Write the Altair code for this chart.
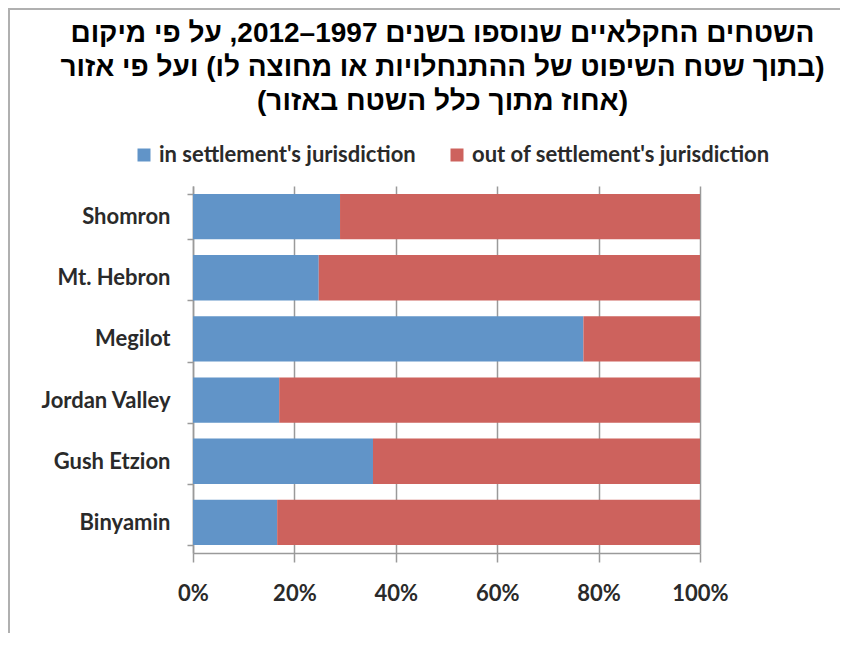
import altair as alt
import pandas as pd

# ---- data ----
regions = ["Shomron", "Mt. Hebron", "Megilot", "Jordan Valley", "Gush Etzion", "Binyamin"]
inside = [0.290, 0.248, 0.770, 0.170, 0.355, 0.166]
outside = [0.710, 0.752, 0.230, 0.830, 0.645, 0.834]
series = ["in settlement's jurisdiction", "out of settlement's jurisdiction"]
colors = ["#6194C8", "#CD625D"]
x_ticks = [0, 0.2, 0.4, 0.6, 0.8, 1.0]

RLM = "\u200f"
title_lines = [
    "השטחים החקלאיים שנוספו בשנים 1997–2012, על פי מיקום",
    "(בתוך שטח השיפוט של ההתנחלויות או מחוצה לו) ועל פי אזור",
    "(אחוז מתוך כלל השטח באזור)",
]
title_lines = [RLM + t + RLM for t in title_lines]

rows = []
for i, r in enumerate(regions):
    rows.append({"region": r, "series": series[0], "value": inside[i], "ord": 0})
    rows.append({"region": r, "series": series[1], "value": outside[i], "ord": 1})
df = pd.DataFrame(rows)

LABEL_FONT = "Lato"
LABEL_WEIGHT = "bold"
LABEL_SIZE = 22
TXT = "#2a2a2a"
GRID = "#9a9a9a"

bars = alt.Chart(df).mark_bar().encode(
    y=alt.Y(
        "region:N",
        sort=regions,
        title=None,
        scale=alt.Scale(paddingInner=0.26, paddingOuter=0.13),
        axis=alt.Axis(
            tickBand="extent",
            tickSize=6,
            tickColor=GRID,
            tickWidth=1.5,
            domainColor=GRID,
            domainWidth=1.5,
            labelFont=LABEL_FONT,
            labelFontSize=LABEL_SIZE,
            labelFontWeight=LABEL_WEIGHT,
            labelColor=TXT,
            labelPadding=17,
            grid=False,
        ),
    ),
    x=alt.X(
        "value:Q",
        stack="zero",
        title=None,
        scale=alt.Scale(domain=[0, 1], nice=False),
        axis=alt.Axis(
            values=x_ticks,
            format=".0%",
            grid=True,
            gridColor=GRID,
            gridWidth=1.5,
            tickSize=9,
            tickColor=GRID,
            tickWidth=1.5,
            domainColor=GRID,
            domainWidth=1.5,
            labelFont=LABEL_FONT,
            labelFontSize=LABEL_SIZE,
            labelFontWeight=LABEL_WEIGHT,
            labelColor=TXT,
            labelPadding=21,
            labelFlush=False,
        ),
    ),
    color=alt.Color(
        "series:N",
        scale=alt.Scale(domain=series, range=colors),
        legend=alt.Legend(
            title=None,
            orient="none",
            direction="horizontal",
            legendX=-60,
            legendY=-42,
            symbolType="square",
            symbolSize=169,
            symbolStrokeWidth=0,
            labelFont=LABEL_FONT,
            labelFontSize=LABEL_SIZE,
            labelFontWeight=LABEL_WEIGHT,
            labelColor=TXT,
            labelOffset=4,
            labelLimit=0,
            columnPadding=30,
            padding=0,
        ),
    ),
    order=alt.Order("ord:Q"),
)

frame_v = alt.Chart(alt.Data(values=[{}])).mark_rule(color="#b0b0b0", strokeWidth=2).encode(
    x=alt.value(-184), y=alt.value(-178), y2=alt.value(460)
)
frame_h = alt.Chart(alt.Data(values=[{}])).mark_rule(color="#b0b0b0", strokeWidth=2).encode(
    y=alt.value(-177), x=alt.value(-184), x2=alt.value(648)
)

chart = alt.layer(frame_v, frame_h, bars).properties(
    width=507,
    height=367,
    autosize=alt.AutoSizeParams(type="none"),
    padding={"left": 185, "top": 178, "right": 140, "bottom": 80},
    title=alt.TitleParams(
        text=title_lines,
        font="Liberation Sans",
        fontSize=28,
        fontWeight="bold",
        color="#000000",
        lineHeight=34,
        anchor="middle",
        frame="group",
        offset=10,
        dy=119,
        dx=-4,
    ),
).configure_view(stroke=None)

chart.save("out.html", embed_options={"renderer": "svg", "actions": False})
